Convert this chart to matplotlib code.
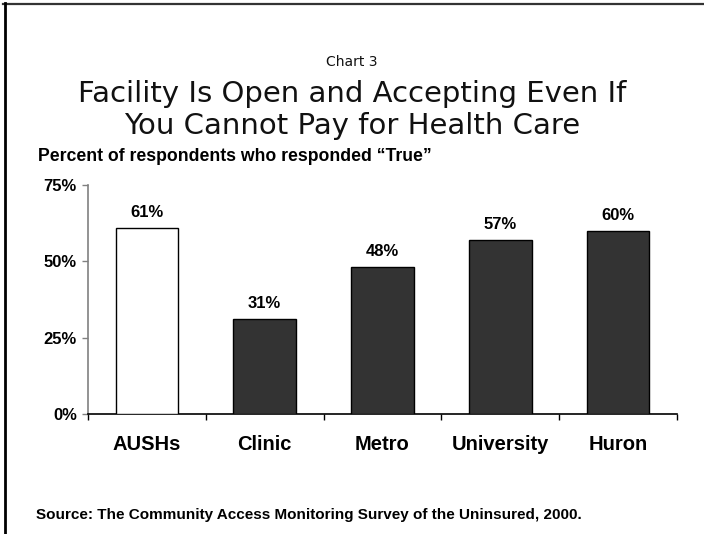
import matplotlib.pyplot as plt
from matplotlib.lines import Line2D

# data
categories = ['AUSHs', 'Clinic', 'Metro', 'University', 'Huron']
values = [61, 31, 48, 57, 60]
bar_colors = ['white', '#333333', '#333333', '#333333', '#333333']
y_ticks = [0, 25, 50, 75]

W, H = 704, 534
fig = plt.figure(figsize=(W / 100, H / 100), dpi=100)

# axes box in pixels: left 88, right 677, top 185, bottom 414
ax = fig.add_axes([88 / W, (H - 414) / H, (677 - 88) / W, (414 - 185) / H])

x = range(len(categories))
ax.bar(x, values, width=0.53, color=bar_colors, edgecolor='black', linewidth=1.0, zorder=3)

for xi, v in zip(x, values):
    ax.annotate(f'{v}%', (xi, v), xytext=(0, 8), textcoords='offset points',
                ha='center', va='baseline', fontsize=12, fontweight='bold',
                family='Liberation Sans')

ax.set_xlim(-0.5, len(categories) - 0.5)
ax.set_ylim(0, 75)

# ticks at category boundaries, labels at centers
ax.set_xticks([i - 0.5 for i in range(len(categories) + 1)])
ax.set_xticklabels([])
ax.set_xticks(list(x), minor=True)
ax.set_xticklabels(categories, minor=True, fontsize=14.5, fontweight='bold',
                   family='Liberation Sans')
ax.tick_params(axis='x', which='major', direction='out', length=4, width=1, color='black')
ax.tick_params(axis='x', which='minor', length=0, pad=15)

ax.set_yticks(y_ticks)
ax.set_yticklabels([f'{t}%' for t in y_ticks], fontsize=12, fontweight='bold',
                   family='Liberation Sans')
ax.tick_params(axis='y', direction='out', length=4, width=1, color='#808080', pad=4)

for s in ['top', 'right']:
    ax.spines[s].set_visible(False)
ax.spines['left'].set_color('#808080')
ax.spines['left'].set_linewidth(1.2)
ax.spines['bottom'].set_color('black')
ax.spines['bottom'].set_linewidth(1.2)

# titles
fig.text(0.5, 1 - 66 / H, 'Chart 3', ha='center', va='baseline', fontsize=10,
         family='DejaVu Sans', color='#111111')
fig.text(0.5, 1 - 102 / H, 'Facility Is Open and Accepting Even If', ha='center',
         va='baseline', fontsize=21, family='DejaVu Sans', color='#111111')
fig.text(0.5, 1 - 134 / H, 'You Cannot Pay for Health Care', ha='center',
         va='baseline', fontsize=21, family='DejaVu Sans', color='#111111')

fig.text(38 / W, 1 - 161 / H, 'Percent of respondents who responded \u201cTrue\u201d',
         ha='left', va='baseline', fontsize=12.7, fontweight='bold', family='Liberation Sans')

fig.text(36 / W, 1 - 519 / H,
         'Source: The Community Access Monitoring Survey of the Uninsured, 2000.',
         ha='left', va='baseline', fontsize=11, fontweight='bold', family='Liberation Sans')

# frame lines (top and left only)
fig.add_artist(Line2D([3 / W, 1], [1 - 3.5 / H, 1 - 3.5 / H], transform=fig.transFigure,
                      color='#333333', linewidth=1.6))
fig.add_artist(Line2D([4.5 / W, 4.5 / W], [0, 1 - 3 / H], transform=fig.transFigure,
                      color='black', linewidth=2.0))

fig.savefig('out.png', dpi=100)
